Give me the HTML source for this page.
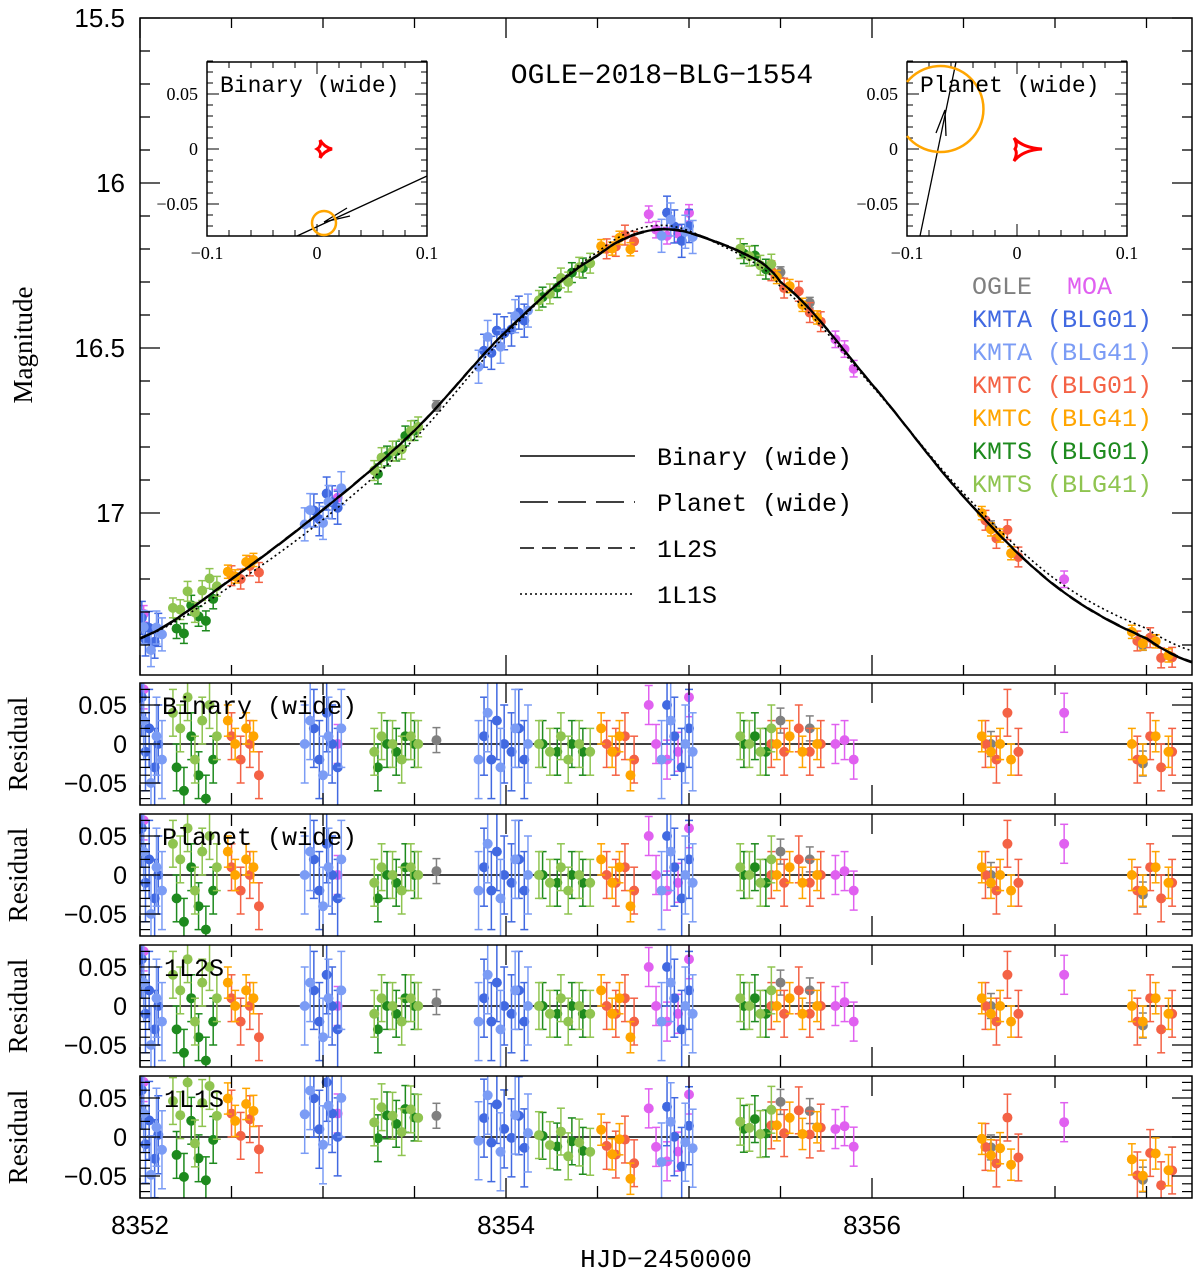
<!DOCTYPE html>
<html><head><meta charset="utf-8"><title>OGLE-2018-BLG-1554</title>
<style>
html,body{margin:0;padding:0;background:#fff;}
svg{display:block;font-family:"Liberation Sans",sans-serif;}
</style></head>
<body>
<svg id="chart" width="1200" height="1275" viewBox="0 0 1200 1275" xmlns="http://www.w3.org/2000/svg">
<defs>
<clipPath id="clipMain"><rect x="140" y="18" width="1052" height="657"/></clipPath>
<clipPath id="clipR0"><rect x="140" y="683" width="1052" height="122"/></clipPath>
<clipPath id="clipR1"><rect x="140" y="814" width="1052" height="122"/></clipPath>
<clipPath id="clipR2"><rect x="140" y="945" width="1052" height="122"/></clipPath>
<clipPath id="clipR3"><rect x="140" y="1076" width="1052" height="122"/></clipPath>
</defs>
<g id="layer"></g>
</svg>
<script>
// ---- data ----
const datasetNames = ["OGLE","MOA","KMTA (BLG01)","KMTA (BLG41)","KMTC (BLG01)","KMTC (BLG41)","KMTS (BLG01)","KMTS (BLG41)"];
const datasetColors = ["#808080","#e060f0","#4169e1","#7b9cf5","#f46245","#ffa500","#1e8a1e","#8fc450"];
const datasetErr = [0.016,0.025,0.05,0.05,0.03,0.02,0.03,0.03];
const tOGLE = [8353.62,8355.5,8355.66,8356.65,8357.48];
const rOGLE = [0.005,0.03,0.02,0.0,-0.025];
const tMOA = [8352.02,8353.08,8354.78,8354.82,8354.88,8354.94,8355.0,8355.8,8355.85,8355.9,8357.05];
const rMOA = [0.07,0.0,0.05,0.0,-0.02,-0.01,0.06,0.0,0.005,-0.02,0.04];
const tKA1 = [8352.01,8352.03,8352.05,8352.08,8352.10,8352.95,8352.98,8353.02,8353.05,8353.08,8353.88,8353.92,8353.95,8353.99,8354.03,8354.07,8354.10,8354.88,8354.92,8354.96,8355.0];
const rKA1 = [0.06,-0.01,0.02,-0.03,0.0,0.02,-0.02,0.04,0.0,-0.03,0.01,-0.02,0.03,0.0,-0.01,0.02,-0.02,0.05,0.01,-0.03,0.02];
const tKA4 = [8352.02,8352.06,8352.09,8352.12,8352.90,8352.93,8353.0,8353.03,8353.10,8353.85,8353.9,8353.97,8354.05,8354.12,8354.85,8354.9,8354.98,8355.02];
const rKA4 = [0.03,-0.05,0.01,-0.02,0.0,0.03,-0.04,0.01,0.02,-0.02,0.04,-0.03,0.02,0.0,-0.02,0.03,0.0,-0.01];
const tKC1 = [8352.5,8352.55,8352.6,8352.65,8354.55,8354.6,8354.65,8354.7,8355.45,8355.52,8355.6,8355.66,8355.72,8356.62,8356.68,8356.74,8356.8,8357.45,8357.52,8357.58,8357.64];
const rKC1 = [0.01,-0.02,0.0,-0.04,0.0,-0.01,0.01,-0.02,0.0,-0.01,0.02,-0.01,0.0,0.0,-0.02,0.04,-0.01,-0.02,0.01,-0.03,-0.01];
const tKC4 = [8352.48,8352.52,8352.58,8352.62,8354.52,8354.58,8354.62,8354.68,8355.48,8355.55,8355.62,8355.7,8356.6,8356.65,8356.7,8356.76,8357.42,8357.48,8357.55,8357.62];
const rKC4 = [0.03,0.0,0.02,0.01,0.02,-0.01,0.01,-0.04,0.0,0.01,-0.01,0.0,0.01,-0.01,0.0,-0.02,0.0,-0.02,0.01,-0.01];
const tKS1 = [8352.2,8352.24,8352.28,8352.32,8352.36,8352.4,8353.3,8353.35,8353.4,8353.45,8353.5,8354.2,8354.28,8354.36,8354.42,8355.3,8355.36,8355.42];
const rKS1 = [-0.03,-0.06,0.01,-0.04,-0.07,-0.02,-0.03,0.0,-0.01,0.01,0.0,0.0,-0.01,0.0,-0.01,0.0,0.01,-0.01];
const tKS4 = [8352.18,8352.22,8352.26,8352.3,8352.34,8352.38,8352.42,8353.28,8353.32,8353.38,8353.43,8353.48,8353.52,8354.18,8354.24,8354.3,8354.34,8354.4,8354.46,8355.28,8355.33,8355.39,8355.45];
const rKS4 = [0.04,0.02,0.06,-0.02,0.03,0.05,0.01,-0.01,0.01,0.0,-0.02,0.01,0.0,0.0,-0.01,0.01,-0.02,0.0,-0.01,0.01,0.0,-0.01,0.02];
const datasetT = [tOGLE,tMOA,tKA1,tKA4,tKC1,tKC4,tKS1,tKS4];
const datasetR = [rOGLE,rMOA,rKA1,rKA4,rKC1,rKC4,rKS1,rKS4];
// binary model light curve knots (HJD, mag)
const modelT = [8351.9,8352.0,8352.5,8353.0,8353.5,8354.0,8354.5,8354.85,8355.25,8355.5,8356.0,8356.5,8357.0,8357.5,8357.8];
const modelM = [17.41,17.38,17.20,16.99,16.75,16.45,16.22,16.14,16.20,16.30,16.61,16.95,17.22,17.38,17.46];
// 1L1S offset relative to binary model (mag)
const d1L1S = [0.0,0.0,0.02,0.03,0.025,0.01,-0.01,-0.012,0.008,0.015,0.005,-0.01,-0.02,-0.03,-0.035];
const residLabels = ["Binary (wide)","Planet (wide)","1L2S","1L1S"];
const mainYTicks = [15.5,16,16.5,17];
const xTickLabels = [8352,8354,8356];
const resYTicks = [0.05,0,-0.05];

// ---- scales ----
const xS = t => 140 + (t-8352)*183;
const yM = m => 18 + (m-15.5)*330;
const resTops = [683,814,945,1076];
const resH = 122;
const yR = (i,r) => resTops[i] + resH/2 - r*780;

const NS="http://www.w3.org/2000/svg";
const layer=document.getElementById('layer');
function mk(tag, attrs, parent){const e=document.createElementNS(NS,tag);for(const k in attrs)e.setAttribute(k,attrs[k]);(parent||layer).appendChild(e);return e;}
function interp(arr,t){
  let i=0; while(i<modelT.length-2 && t>modelT[i+1]) i++;
  const p0=arr[Math.max(i-1,0)],p1=arr[i],p2=arr[i+1],p3=arr[Math.min(i+2,arr.length-1)];
  const u=(t-modelT[i])/(modelT[i+1]-modelT[i]);
  return 0.5*((2*p1)+(-p0+p2)*u+(2*p0-5*p1+4*p2-p3)*u*u+(-p0+3*p1-3*p2+p3)*u*u*u);
}
const binModel = t => interp(modelM,t);
const dOff = t => interp(d1L1S,t);

// ---- main panel ----
const mainG=mk('g',{'clip-path':'url(#clipMain)'});


datasetT.forEach((ts,k)=>{
  const g=mk('g',{},mainG);
  
  
  ts.forEach((t,j)=>{
    const m=binModel(t)-datasetR[k][j];
    const x=xS(t), y=yM(m), e=datasetErr[k]*330;
    mk('line',{x1:x,x2:x,y1:y-e,y2:y+e,stroke:datasetColors[k],'stroke-width':1.5},g);
    mk('line',{x1:x-4,x2:x+4,y1:y-e,y2:y-e,stroke:datasetColors[k],'stroke-width':1.5},g);
    mk('line',{x1:x-4,x2:x+4,y1:y+e,y2:y+e,stroke:datasetColors[k],'stroke-width':1.5},g);
    const c=mk('circle',{cx:x,cy:y,r:5,fill:datasetColors[k]},g);
    
    
  });
});
function curvePath(off){let d='';for(let t=8351.9;t<=8357.8;t+=0.02){const m=binModel(t)+off(t);d+=(d?'L':'M')+xS(t).toFixed(1)+','+yM(m).toFixed(1);}return d;}
const cBin=mk('path',{d:curvePath(()=>0),fill:'none',stroke:'#000','stroke-width':2.2},mainG);

const cPl=mk('path',{d:curvePath(()=>0.002),fill:'none',stroke:'#000','stroke-width':1.5,'stroke-dasharray':'28,10'},mainG);

const c12=mk('path',{d:curvePath(()=>-0.002),fill:'none',stroke:'#000','stroke-width':1.5,'stroke-dasharray':'14,8'},mainG);

const c11=mk('path',{d:curvePath(dOff),fill:'none',stroke:'#000','stroke-width':1.6,'stroke-dasharray':'2,3'},mainG);


const mf=mk('rect',{x:140,y:18,width:1052,height:657,fill:'none',stroke:'#000','stroke-width':1.5});

for(let t=8352;t<=8357.75;t+=0.5){const maj=(Math.abs(t-Math.round(t/2)*2)<1e-6);const L=maj?20:10;
  mk('line',{x1:xS(t),x2:xS(t),y1:675,y2:675-L,stroke:'#000','stroke-width':1.3});
  mk('line',{x1:xS(t),x2:xS(t),y1:18,y2:18+L,stroke:'#000','stroke-width':1.3});}
for(let m=15.5;m<=17.49;m+=0.1){const maj=Math.abs(m*2-Math.round(m*2))<1e-6;const L=maj?20:10;const y=yM(m);
  mk('line',{x1:140,x2:140+L,y1:y,y2:y,stroke:'#000','stroke-width':1.3});
  mk('line',{x1:1192,x2:1192-L,y1:y,y2:y,stroke:'#000','stroke-width':1.3});}
mainYTicks.forEach(v=>{const tx=mk('text',{x:125,y:yM(v)+9,'text-anchor':'end','font-size':26});tx.textContent=String(v);
  });
const yl=mk('text',{x:0,y:0,'font-size':27,'text-anchor':'middle','font-family':'Liberation Serif, serif',transform:'translate(32,345) rotate(-90)'});yl.textContent='Magnitude';

const tt=mk('text',{x:662,y:83,'font-size':28,'text-anchor':'middle','font-family':'Liberation Mono, monospace'});tt.textContent='OGLE\u22122018\u2212BLG\u22121554';


const lineLeg=[['Binary (wide)','none'],['Planet (wide)','28,10'],['1L2S','14,8'],['1L1S','2,3']];
lineLeg.forEach((L,i)=>{const y=456+i*46;const g=mk('g',{});
  
  mk('line',{x1:520,x2:635,y1:y,y2:y,stroke:'#000','stroke-width':1.5,'stroke-dasharray':L[1]},g);
  const t=mk('text',{x:657,y:y+9,'font-size':25,'font-family':'Liberation Mono, monospace'},g);t.textContent=L[0];});
const og=mk('text',{x:972,y:294,'font-size':25,fill:datasetColors[0],'font-family':'Liberation Mono, monospace'});og.textContent='OGLE';

const mo=mk('text',{x:1067,y:294,'font-size':25,fill:datasetColors[1],'font-family':'Liberation Mono, monospace'});mo.textContent='MOA';

for(let k=2;k<8;k++){const t=mk('text',{x:972,y:327+(k-2)*33,'font-size':25,fill:datasetColors[k],'font-family':'Liberation Mono, monospace'});t.textContent=datasetNames[k];
  }

// ---- insets ----
function inset(x0,name){const y0=62,W=220,H=174;const g=mk('g',{});
  
  mk('rect',{x:x0,y:y0,width:W,height:H,fill:'#fff',stroke:'#000','stroke-width':1.5},g);
  const ix=v=>x0+110+v*1100, iy=v=>149-v*1100;
  for(let v=-0.1;v<=0.1001;v+=0.02){const maj=Math.abs(v*10-Math.round(v*10))<1e-6;const L=maj?12:6;
    mk('line',{x1:ix(v),x2:ix(v),y1:y0+H,y2:y0+H-L,stroke:'#000'},g);mk('line',{x1:ix(v),x2:ix(v),y1:y0,y2:y0+L,stroke:'#000'},g);}
  for(let v=-0.07;v<=0.081;v+=0.01){const maj=Math.abs(v*20-Math.round(v*20))<1e-6;const L=maj?12:6;
    mk('line',{x1:x0,x2:x0+L,y1:iy(v),y2:iy(v),stroke:'#000'},g);mk('line',{x1:x0+W,x2:x0+W-L,y1:iy(v),y2:iy(v),stroke:'#000'},g);}
  [['\u22120.1',-0.1],['0',0],['0.1',0.1]].forEach(a=>{const t=mk('text',{x:ix(a[1]),y:259,'text-anchor':'middle','font-size':18,'font-family':'Liberation Serif, serif'},g);t.textContent=a[0];});
  [['0.05',0.05],['0',0],['\u22120.05',-0.05]].forEach(a=>{const t=mk('text',{x:x0-9,y:iy(a[1])+6,'text-anchor':'end','font-size':18,'font-family':'Liberation Serif, serif'},g);t.textContent=a[0];});
  return {g,ix,iy};}
const A=inset(207,'binary-inset');
mk('path',{d:'M317,149 Q322,146 320,140 Q324,147 332,149 Q324,151 320,158 Q322,152 317,149 Z',fill:'none',stroke:'red','stroke-width':3},A.g);
mk('line',{x1:297,y1:236,x2:427,y2:176,stroke:'#000','stroke-width':1.3},A.g);
mk('path',{d:'M347,208 L324,222 L350,216',fill:'none',stroke:'#000','stroke-width':1.3},A.g);
mk('circle',{cx:324,cy:223,r:12,fill:'none',stroke:'orange','stroke-width':2.5},A.g);
let lt=mk('text',{x:220,y:92,'font-size':23,'font-family':'Liberation Mono, monospace'},A.g);lt.textContent='Binary (wide)';
const B=inset(907,'planet-inset');
mk('path',{d:'M1015,149 Q1018,145 1014,138 Q1023,148 1042,149 Q1023,150 1014,161 Q1018,153 1015,149 Z',fill:'none',stroke:'red','stroke-width':3},B.g);
mk('line',{x1:920,y1:236,x2:956,y2:62,stroke:'#000','stroke-width':1.3},B.g);
mk('path',{d:'M936,133 L945,110 L946,136',fill:'none',stroke:'#000','stroke-width':1.3},B.g);
mk('path',{d:'M907,82 A43,43 0 1 1 907,136',fill:'none',stroke:'orange','stroke-width':2.5},B.g);
lt=mk('text',{x:920,y:92,'font-size':23,'font-family':'Liberation Mono, monospace'},B.g);lt.textContent='Planet (wide)';

// ---- residual panels ----
for(let i=0;i<4;i++){
  const top=resTops[i];
  const pg=mk('g',{});
  
  const g=mk('g',{'clip-path':'url(#clipR'+i+')'},pg);
  mk('line',{x1:140,x2:1192,y1:yR(i,0),y2:yR(i,0),stroke:'#000','stroke-width':1.5},g);
  datasetT.forEach((ts,k)=>{
    ts.forEach((t,j)=>{
      const r=datasetR[k][j]+(i===3?dOff(t):0);
      const x=xS(t),y=yR(i,r),e=datasetErr[k]*780;
      mk('line',{x1:x,x2:x,y1:y-e,y2:y+e,stroke:datasetColors[k],'stroke-width':1.5},g);
      mk('line',{x1:x-4,x2:x+4,y1:y-e,y2:y-e,stroke:datasetColors[k],'stroke-width':1.5},g);
      mk('line',{x1:x-4,x2:x+4,y1:y+e,y2:y+e,stroke:datasetColors[k],'stroke-width':1.5},g);
      const c=mk('circle',{cx:x,cy:y,r:5,fill:datasetColors[k]},g);
      
      
    });
  });
  mk('rect',{x:140,y:top,width:1052,height:resH,fill:'none',stroke:'#000','stroke-width':1.5},pg);
  for(let t=8352;t<=8357.75;t+=0.5){const maj=(Math.abs(t-Math.round(t/2)*2)<1e-6);const L=maj?20:12;
    mk('line',{x1:xS(t),x2:xS(t),y1:top+resH,y2:top+resH-L,stroke:'#000','stroke-width':1.3},pg);
    mk('line',{x1:xS(t),x2:xS(t),y1:top,y2:top+L,stroke:'#000','stroke-width':1.3},pg);}
  for(let v=-0.07;v<=0.071;v+=0.01){const maj=Math.abs(v*20-Math.round(v*20))<1e-6;const L=maj?20:10;
    mk('line',{x1:140,x2:140+L,y1:yR(i,v),y2:yR(i,v),stroke:'#000','stroke-width':1.2},pg);
    mk('line',{x1:1192,x2:1192-L,y1:yR(i,v),y2:yR(i,v),stroke:'#000','stroke-width':1.2},pg);}
  resYTicks.forEach(v=>{const t=mk('text',{x:127,y:yR(i,v)+9,'text-anchor':'end','font-size':25},pg);t.textContent=v===0?'0':(v<0?'\u22120.05':'0.05');});
  const rl=mk('text',{x:0,y:0,'font-size':27,'text-anchor':'middle','font-family':'Liberation Serif, serif',transform:'translate(27,'+(top+61)+') rotate(-90)'},pg);rl.textContent='Residual';
  
  const pl=mk('text',{x:i<2?162:164,y:top+31,'font-size':25,'font-family':'Liberation Mono, monospace'},pg);pl.textContent=residLabels[i];
  
}
xTickLabels.forEach(v=>{const t=mk('text',{x:xS(v),y:1234,'text-anchor':'middle','font-size':26});t.textContent=String(v);
  });
const xl=mk('text',{x:666,y:1267,'text-anchor':'middle','font-size':26,'font-family':'Liberation Mono, monospace'});xl.textContent='HJD\u22122450000';

</script>
</body></html>
